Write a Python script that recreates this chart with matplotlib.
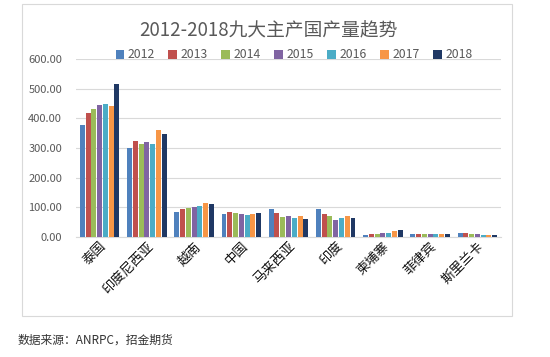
import matplotlib.pyplot as plt
import numpy as np
from matplotlib.patches import Rectangle

plt.rcParams['font.family'] = ['Noto Sans CJK SC', 'DejaVu Sans']

# Data (thousand tonnes)
countries = ['泰国', '印度尼西亚', '越南', '中国', '马来西亚', '印度', '柬埔寨', '菲律宾', '斯里兰卡']
years = ['2012', '2013', '2014', '2015', '2016', '2017', '2018']
v2012 = [377, 300, 85, 78, 93, 93, 6.5, 11, 15]
v2013 = [417, 323, 93, 85, 82, 78, 8.5, 11, 13]
v2014 = [431, 314, 98, 82, 67, 72, 9.7, 10.5, 9.9]
v2015 = [445, 319, 100, 79, 71, 56, 12.7, 10, 8.9]
v2016 = [450, 314, 104, 74, 64, 64, 14.5, 9, 7.9]
v2017 = [442, 362, 115, 79, 72, 72, 19.3, 10, 8.3]
v2018 = [515, 348, 111, 82, 61, 64, 22, 9, 8.2]
series = [v2012, v2013, v2014, v2015, v2016, v2017, v2018]
colors = ['#4F81BD', '#C0504D', '#9BBB59', '#8064A2', '#4BACC6', '#F79646', '#1F3864']

fig = plt.figure(figsize=(5.5, 3.57), dpi=100)
ax = fig.add_axes([76 / 550, 1 - 237 / 357, 425 / 550, 178 / 357])

# outer chart frame
fig.patches.append(Rectangle((22 / 550, 1 - 316 / 357), 490 / 550, 312 / 357,
                             transform=fig.transFigure, fill=False,
                             edgecolor='#d9d9d9', linewidth=0.8))

x = np.arange(len(countries))
step = 0.122
width = 0.105
for i, (vals, c, yr) in enumerate(zip(series, colors, years)):
    ax.bar(x + (i - 3) * step, vals, width=width, color=c, label=yr, zorder=3)

ax.set_xlim(-0.5, len(countries) - 0.5)
ax.set_ylim(0, 600)
ax.set_yticks(np.arange(0, 601, 100))
ax.set_yticklabels([f'{v:.2f}' for v in np.arange(0, 601, 100)], color='#595959', fontsize=8)
ax.yaxis.grid(True, color='#d9d9d9', linewidth=0.8, zorder=0)
ax.tick_params(axis='y', length=0, pad=10)
ax.tick_params(axis='x', length=0, pad=2)
for s in ['top', 'right', 'left']:
    ax.spines[s].set_visible(False)
ax.spines['bottom'].set_color('#d9d9d9')

ax.set_xticks(x)
ax.set_xticklabels(countries, rotation=45, ha='right', rotation_mode='anchor',
                   fontsize=9.5, color='#111111')

fig.text(268 / 550, 1 - 31 / 357, '2012-2018九大主产国产量趋势', ha='center', va='center',
         fontsize=13.5, color='#595959')

fig.legend(loc='center', bbox_to_anchor=(294 / 550, 1 - 55 / 357), ncol=7, frameon=False,
           fontsize=8.8, handlelength=0.7, handleheight=0.7, handletextpad=0.3,
           columnspacing=1.1, labelcolor='#595959')

fig.text(18 / 550, 1 - 340 / 357, '数据来源：ANRPC，招金期货', ha='left', va='center',
         fontsize=8.5, style='italic', color='#333333')

plt.savefig('out.png', dpi=100)
plt.close()
